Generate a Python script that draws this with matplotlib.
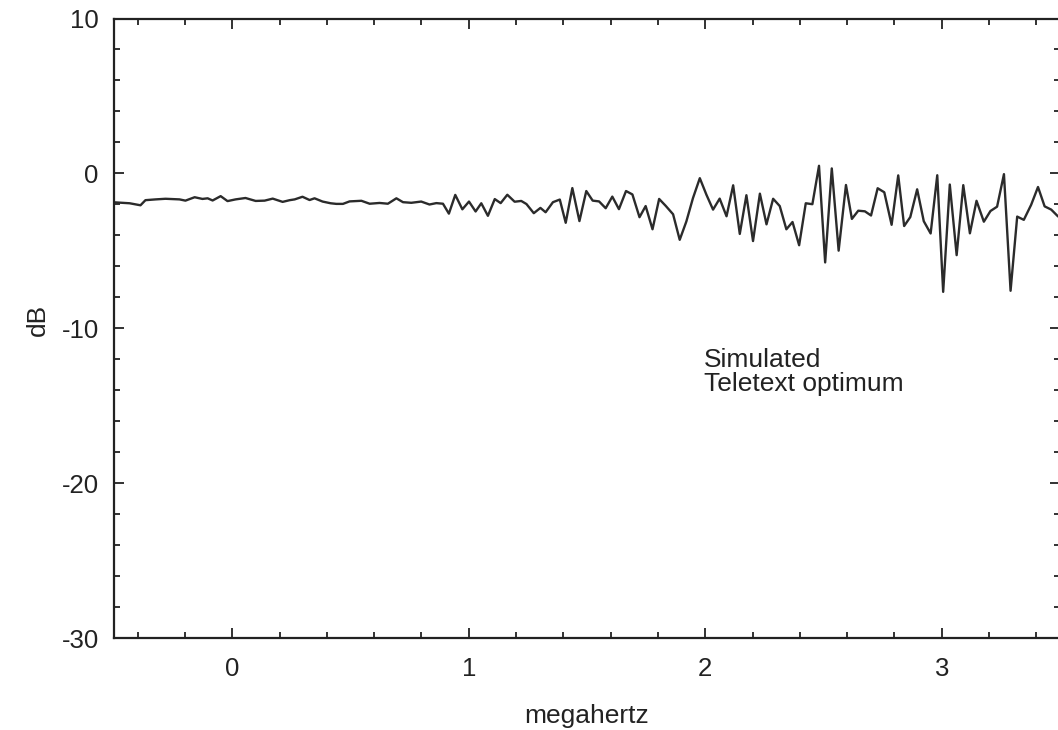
import numpy as np
import matplotlib
matplotlib.use('Agg')
import matplotlib.pyplot as plt
from matplotlib.ticker import MultipleLocator

plt.rcParams['font.family'] = ['Liberation Sans', 'DejaVu Sans']
plt.rcParams['axes.unicode_minus'] = False

# frequency (MHz) and response (dB)
freq_mhz = [
    -0.498, -0.434, -0.388, -0.367, -0.324, -0.282, -0.223, -0.198, -0.159, -0.126,
    -0.104, -0.083, -0.049, -0.020, 0.014, 0.056, 0.099, 0.137, 0.171, 0.213,
    0.243, 0.264, 0.297, 0.327, 0.348, 0.382, 0.416, 0.440, 0.468, 0.496,
    0.546, 0.581, 0.623, 0.658, 0.694, 0.722, 0.757, 0.799, 0.834, 0.863,
    0.891, 0.916, 0.943, 0.973, 1.001, 1.029, 1.053, 1.081, 1.110, 1.135,
    1.163, 1.194, 1.222, 1.244, 1.275, 1.303, 1.325, 1.356, 1.385, 1.410,
    1.438, 1.468, 1.497, 1.524, 1.551, 1.579, 1.607, 1.635, 1.665, 1.692,
    1.722, 1.748, 1.777, 1.805, 1.833, 1.864, 1.892, 1.920, 1.948, 1.977,
    2.005, 2.033, 2.061, 2.090, 2.118, 2.146, 2.174, 2.202, 2.231, 2.259,
    2.287, 2.315, 2.343, 2.369, 2.397, 2.425, 2.453, 2.481, 2.507, 2.535,
    2.564, 2.595, 2.620, 2.647, 2.675, 2.701, 2.729, 2.757, 2.788, 2.816,
    2.841, 2.867, 2.896, 2.924, 2.953, 2.981, 3.006, 3.034, 3.063, 3.091,
    3.119, 3.147, 3.178, 3.206, 3.234, 3.263, 3.291, 3.319, 3.347, 3.378,
    3.407, 3.435, 3.463, 3.491, 3.520,
]
gain_db = [
    -1.87, -1.93, -2.06, -1.73, -1.68, -1.64, -1.68, -1.76, -1.54, -1.65,
    -1.61, -1.75, -1.47, -1.79, -1.68, -1.59, -1.78, -1.76, -1.63, -1.84,
    -1.73, -1.68, -1.51, -1.72, -1.61, -1.82, -1.93, -1.97, -1.97, -1.81,
    -1.77, -1.96, -1.91, -1.96, -1.61, -1.86, -1.90, -1.82, -2.01, -1.92,
    -1.96, -2.60, -1.39, -2.32, -1.82, -2.46, -1.93, -2.74, -1.66, -1.92,
    -1.38, -1.83, -1.78, -1.98, -2.57, -2.23, -2.51, -1.86, -1.69, -3.19,
    -0.95, -3.08, -1.14, -1.76, -1.81, -2.25, -1.50, -2.31, -1.14, -1.36,
    -2.83, -2.11, -3.61, -1.65, -2.10, -2.64, -4.29, -3.11, -1.60, -0.31,
    -1.38, -2.34, -1.63, -2.77, -0.77, -3.91, -1.41, -4.37, -1.31, -3.29,
    -1.64, -2.11, -3.61, -3.14, -4.64, -1.93, -1.99, 0.49, -5.75, 0.32,
    -4.99, -0.75, -2.94, -2.41, -2.45, -2.72, -0.96, -1.22, -3.32, -0.13,
    -3.40, -2.82, -1.03, -3.09, -3.88, -0.12, -7.65, -0.72, -5.28, -0.76,
    -3.87, -1.77, -3.12, -2.43, -2.15, -0.05, -7.58, -2.79, -3.00, -2.03,
    -0.88, -2.13, -2.34, -2.77, -3.00,
]

W, H = 1058, 730
fig = plt.figure(figsize=(W / 100, H / 100), dpi=100)
ax = fig.add_axes([114 / W, 92 / H, 946 / W, 619.5 / H])

ax.plot(freq_mhz, gain_db, color='#2b2b2b', lw=1.7)

ax.set_xlim(-0.5, 3.5)
ax.set_ylim(-30, 10)
ax.xaxis.set_major_locator(MultipleLocator(1))
ax.xaxis.set_minor_locator(MultipleLocator(0.2))
ax.yaxis.set_major_locator(MultipleLocator(10))
ax.yaxis.set_minor_locator(MultipleLocator(2))

ax.tick_params(which='both', direction='in', top=True, right=True,
               labelsize=18.5, width=1.3, color='#222222', labelcolor='#222222')
ax.tick_params(which='major', length=7.5)
ax.tick_params(which='minor', length=4.5)
ax.tick_params(axis='x', pad=14)
ax.tick_params(axis='y', pad=11)
for s in ax.spines.values():
    s.set_linewidth(1.6)
    s.set_color('#222222')

ax.set_xlabel('megahertz', fontsize=19, color='#222222')
ax.xaxis.set_label_coords(0.5, -0.106)
ax.set_ylabel('dB', fontsize=19, color='#222222')
ax.yaxis.set_label_coords(-0.068, 0.513)

ax.text(1.996, -11.3, 'Simulated\nTeletext optimum', fontsize=19,
        va='top', ha='left', linespacing=1.0, color='#222222')

fig.savefig('out.png', dpi=100)
